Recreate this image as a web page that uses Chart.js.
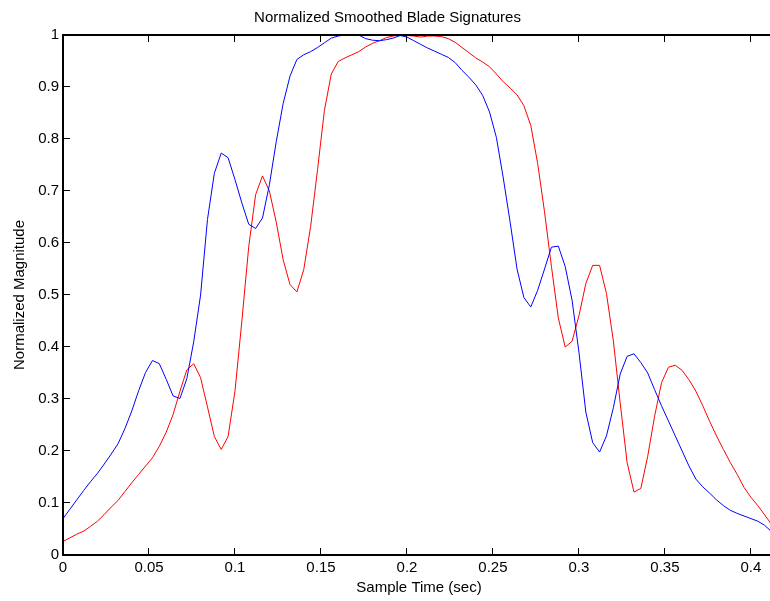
<!DOCTYPE html>
<html>
<head>
<meta charset="utf-8">
<title>Normalized Smoothed Blade Signatures</title>
<script src="https://cdn.jsdelivr.net/npm/chart.js@4.4.0/dist/chart.umd.min.js"></script>
<style>
  html, body { margin: 0; padding: 0; background: #fff; overflow: hidden; }
  #wrap { width: 775px; height: 601px; }
</style>
</head>
<body>
<div id="wrap"><canvas id="blade-chart" width="775" height="601"></canvas></div>
<script>
/**
 * Normalized smoothed blade signatures — two blade passes, sampled every 4 ms
 */

var SAMPLE_TIME = [
  0.000, 0.004, 0.008, 0.012, 0.016, 0.020, 0.024, 0.028, 0.032, 0.036,
  0.040, 0.044, 0.048, 0.052, 0.056, 0.060, 0.064, 0.068, 0.072, 0.076,
  0.080, 0.084, 0.088, 0.092, 0.096, 0.100, 0.104, 0.108, 0.112, 0.116,
  0.120, 0.124, 0.128, 0.132, 0.136, 0.140, 0.144, 0.148, 0.152, 0.156,
  0.160, 0.164, 0.168, 0.172, 0.176, 0.180, 0.184, 0.188, 0.192, 0.196,
  0.200, 0.204, 0.208, 0.212, 0.216, 0.220, 0.224, 0.228, 0.232, 0.236,
  0.240, 0.244, 0.248, 0.252, 0.256, 0.260, 0.264, 0.268, 0.272, 0.276,
  0.280, 0.284, 0.288, 0.292, 0.296, 0.300, 0.304, 0.308, 0.312, 0.316,
  0.320, 0.324, 0.328, 0.332, 0.336, 0.340, 0.344, 0.348, 0.352, 0.356,
  0.360, 0.364, 0.368, 0.372, 0.376, 0.380, 0.384, 0.388, 0.392, 0.396,
  0.400, 0.404, 0.408, 0.412
];

var BLADE_BLUE = [
  0.070, 0.088, 0.106, 0.124, 0.141, 0.157, 0.175, 0.194, 0.214, 0.243,
  0.277, 0.316, 0.351, 0.374, 0.368, 0.338, 0.306, 0.301, 0.339, 0.410,
  0.500, 0.645, 0.734, 0.773, 0.764, 0.722, 0.677, 0.636, 0.628, 0.648,
  0.712, 0.795, 0.868, 0.921, 0.953, 0.962, 0.968, 0.976, 0.985, 0.994,
  0.998, 1.000, 1.000, 1.000, 0.993, 0.990, 0.989, 0.991, 0.994, 0.999,
  0.996, 0.989, 0.982, 0.975, 0.969, 0.963, 0.957, 0.947, 0.932, 0.919,
  0.904, 0.884, 0.852, 0.803, 0.725, 0.640, 0.550, 0.495, 0.477, 0.509,
  0.550, 0.592, 0.594, 0.555, 0.490, 0.390, 0.275, 0.216, 0.198, 0.229,
  0.283, 0.348, 0.382, 0.387, 0.370, 0.350, 0.318, 0.287, 0.258, 0.229,
  0.200, 0.171, 0.146, 0.131, 0.119, 0.106, 0.095, 0.086, 0.080, 0.075,
  0.070, 0.065, 0.057, 0.045
];

var BLADE_RED = [
  0.026, 0.033, 0.040, 0.046, 0.055, 0.065, 0.078, 0.092, 0.105, 0.122,
  0.139, 0.155, 0.171, 0.187, 0.209, 0.236, 0.270, 0.315, 0.356, 0.368,
  0.341, 0.285, 0.228, 0.203, 0.228, 0.315, 0.450, 0.593, 0.693, 0.729,
  0.700, 0.640, 0.568, 0.520, 0.506, 0.549, 0.632, 0.741, 0.855, 0.925,
  0.949, 0.956, 0.962, 0.968, 0.977, 0.984, 0.989, 0.995, 0.998, 1.000,
  0.999, 0.998, 0.996, 0.998, 0.998, 0.997, 0.993, 0.986, 0.976, 0.966,
  0.956, 0.948, 0.939, 0.925, 0.910, 0.898, 0.885, 0.864, 0.826, 0.753,
  0.660, 0.555, 0.456, 0.400, 0.411, 0.460, 0.522, 0.557, 0.557, 0.503,
  0.412, 0.292, 0.178, 0.121, 0.128, 0.190, 0.267, 0.331, 0.361, 0.365,
  0.355, 0.337, 0.315, 0.287, 0.257, 0.229, 0.203, 0.178, 0.155, 0.130,
  0.111, 0.095, 0.077, 0.059
];

var X_TICKS = [0, 0.05, 0.1, 0.15, 0.2, 0.25, 0.3, 0.35, 0.4];
var Y_TICKS = [0, 0.1, 0.2, 0.3, 0.4, 0.5, 0.6, 0.7, 0.8, 0.9, 1];
var X_LIMITS = [0, 0.414];
var Y_LIMITS = [0, 1];

var FONT = { family: '"Liberation Sans", Arial, Helvetica, sans-serif', size: 15, weight: 'normal' };
var TICK_LEN = 7;

function toPoints(xs, ys) {
  return xs.map(function(x, i) { return { x: x, y: ys[i] }; });
}

// ===== MATLAB-style box with inward ticks =====
// right edge of the axes falls just outside the window, so no right ticks
var axesBoxPlugin = {
  id: 'axesBox',
  afterDatasetsDraw: function(chart) {
    var ctx = chart.ctx;
    var a = chart.chartArea;
    var xs = chart.scales.x;
    var ys = chart.scales.y;
    ctx.save();
    ctx.strokeStyle = '#000';

    // ticks (thin)
    ctx.lineWidth = 1;
    ctx.beginPath();
    X_TICKS.forEach(function(v) {
      var px = Math.round(xs.getPixelForValue(v)) - 0.5;
      ctx.moveTo(px, a.bottom);
      ctx.lineTo(px, a.bottom - TICK_LEN);
      ctx.moveTo(px, a.top);
      ctx.lineTo(px, a.top + TICK_LEN);
    });
    Y_TICKS.forEach(function(v) {
      var py = Math.round(ys.getPixelForValue(v)) - 0.5;
      ctx.moveTo(a.left, py);
      ctx.lineTo(a.left + TICK_LEN, py);
    });
    ctx.stroke();

    // box
    ctx.lineWidth = 2;
    ctx.beginPath();
    ctx.moveTo(a.right, a.top);
    ctx.lineTo(a.left, a.top);
    ctx.lineTo(a.left, a.bottom);
    ctx.lineTo(a.right, a.bottom);
    ctx.stroke();
    ctx.restore();
  }
};

function renderBladeChart() {
  var canvas = document.getElementById('blade-chart');
  var ctx = canvas.getContext('2d');

  new Chart(ctx, {
    type: 'line',
    data: {
      datasets: [
        { label: 'Blade A', data: toPoints(SAMPLE_TIME, BLADE_BLUE), borderColor: '#0000ff', borderWidth: 1, pointRadius: 0, tension: 0, fill: false },
        { label: 'Blade B', data: toPoints(SAMPLE_TIME, BLADE_RED), borderColor: '#ff0000', borderWidth: 1, pointRadius: 0, tension: 0, fill: false }
      ]
    },
    options: {
      responsive: false, animation: false,
      layout: { padding: 0 },
      plugins: {
        legend: { display: false },
        tooltip: { enabled: false },
        title: { display: true, text: 'Normalized Smoothed Blade Signatures', color: '#000', font: FONT, padding: { top: 8.5, bottom: 8.5 } }
      },
      scales: {
        x: {
          type: 'linear', min: X_LIMITS[0], max: X_LIMITS[1],
          afterBuildTicks: function(s) { s.ticks = X_TICKS.map(function(v) { return { value: v }; }); },
          afterFit: function(s) { s.height = 46; },
          grid: { display: false, drawTicks: false },
          border: { display: false },
          ticks: { color: '#000', font: FONT, padding: 4, maxRotation: 0, autoSkip: false, callback: function(v) { return String(v); } },
          title: { display: true, text: 'Sample Time (sec)', color: '#000', font: FONT, padding: { top: 0, bottom: 4 } }
        },
        y: {
          type: 'linear', min: Y_LIMITS[0], max: Y_LIMITS[1],
          afterBuildTicks: function(s) { s.ticks = Y_TICKS.map(function(v) { return { value: v }; }); },
          afterFit: function(s) { s.width = 63; },
          grid: { display: false, drawTicks: false },
          border: { display: false },
          ticks: { color: '#000', font: FONT, padding: 4, autoSkip: false, callback: function(v) { return String(v); } },
          title: { display: true, text: 'Normalized Magnitude', color: '#000', font: FONT, padding: { top: 11, bottom: 0 } }
        }
      }
    },
    plugins: [axesBoxPlugin]
  });
}

document.addEventListener('DOMContentLoaded', renderBladeChart);
</script>
</body>
</html>
